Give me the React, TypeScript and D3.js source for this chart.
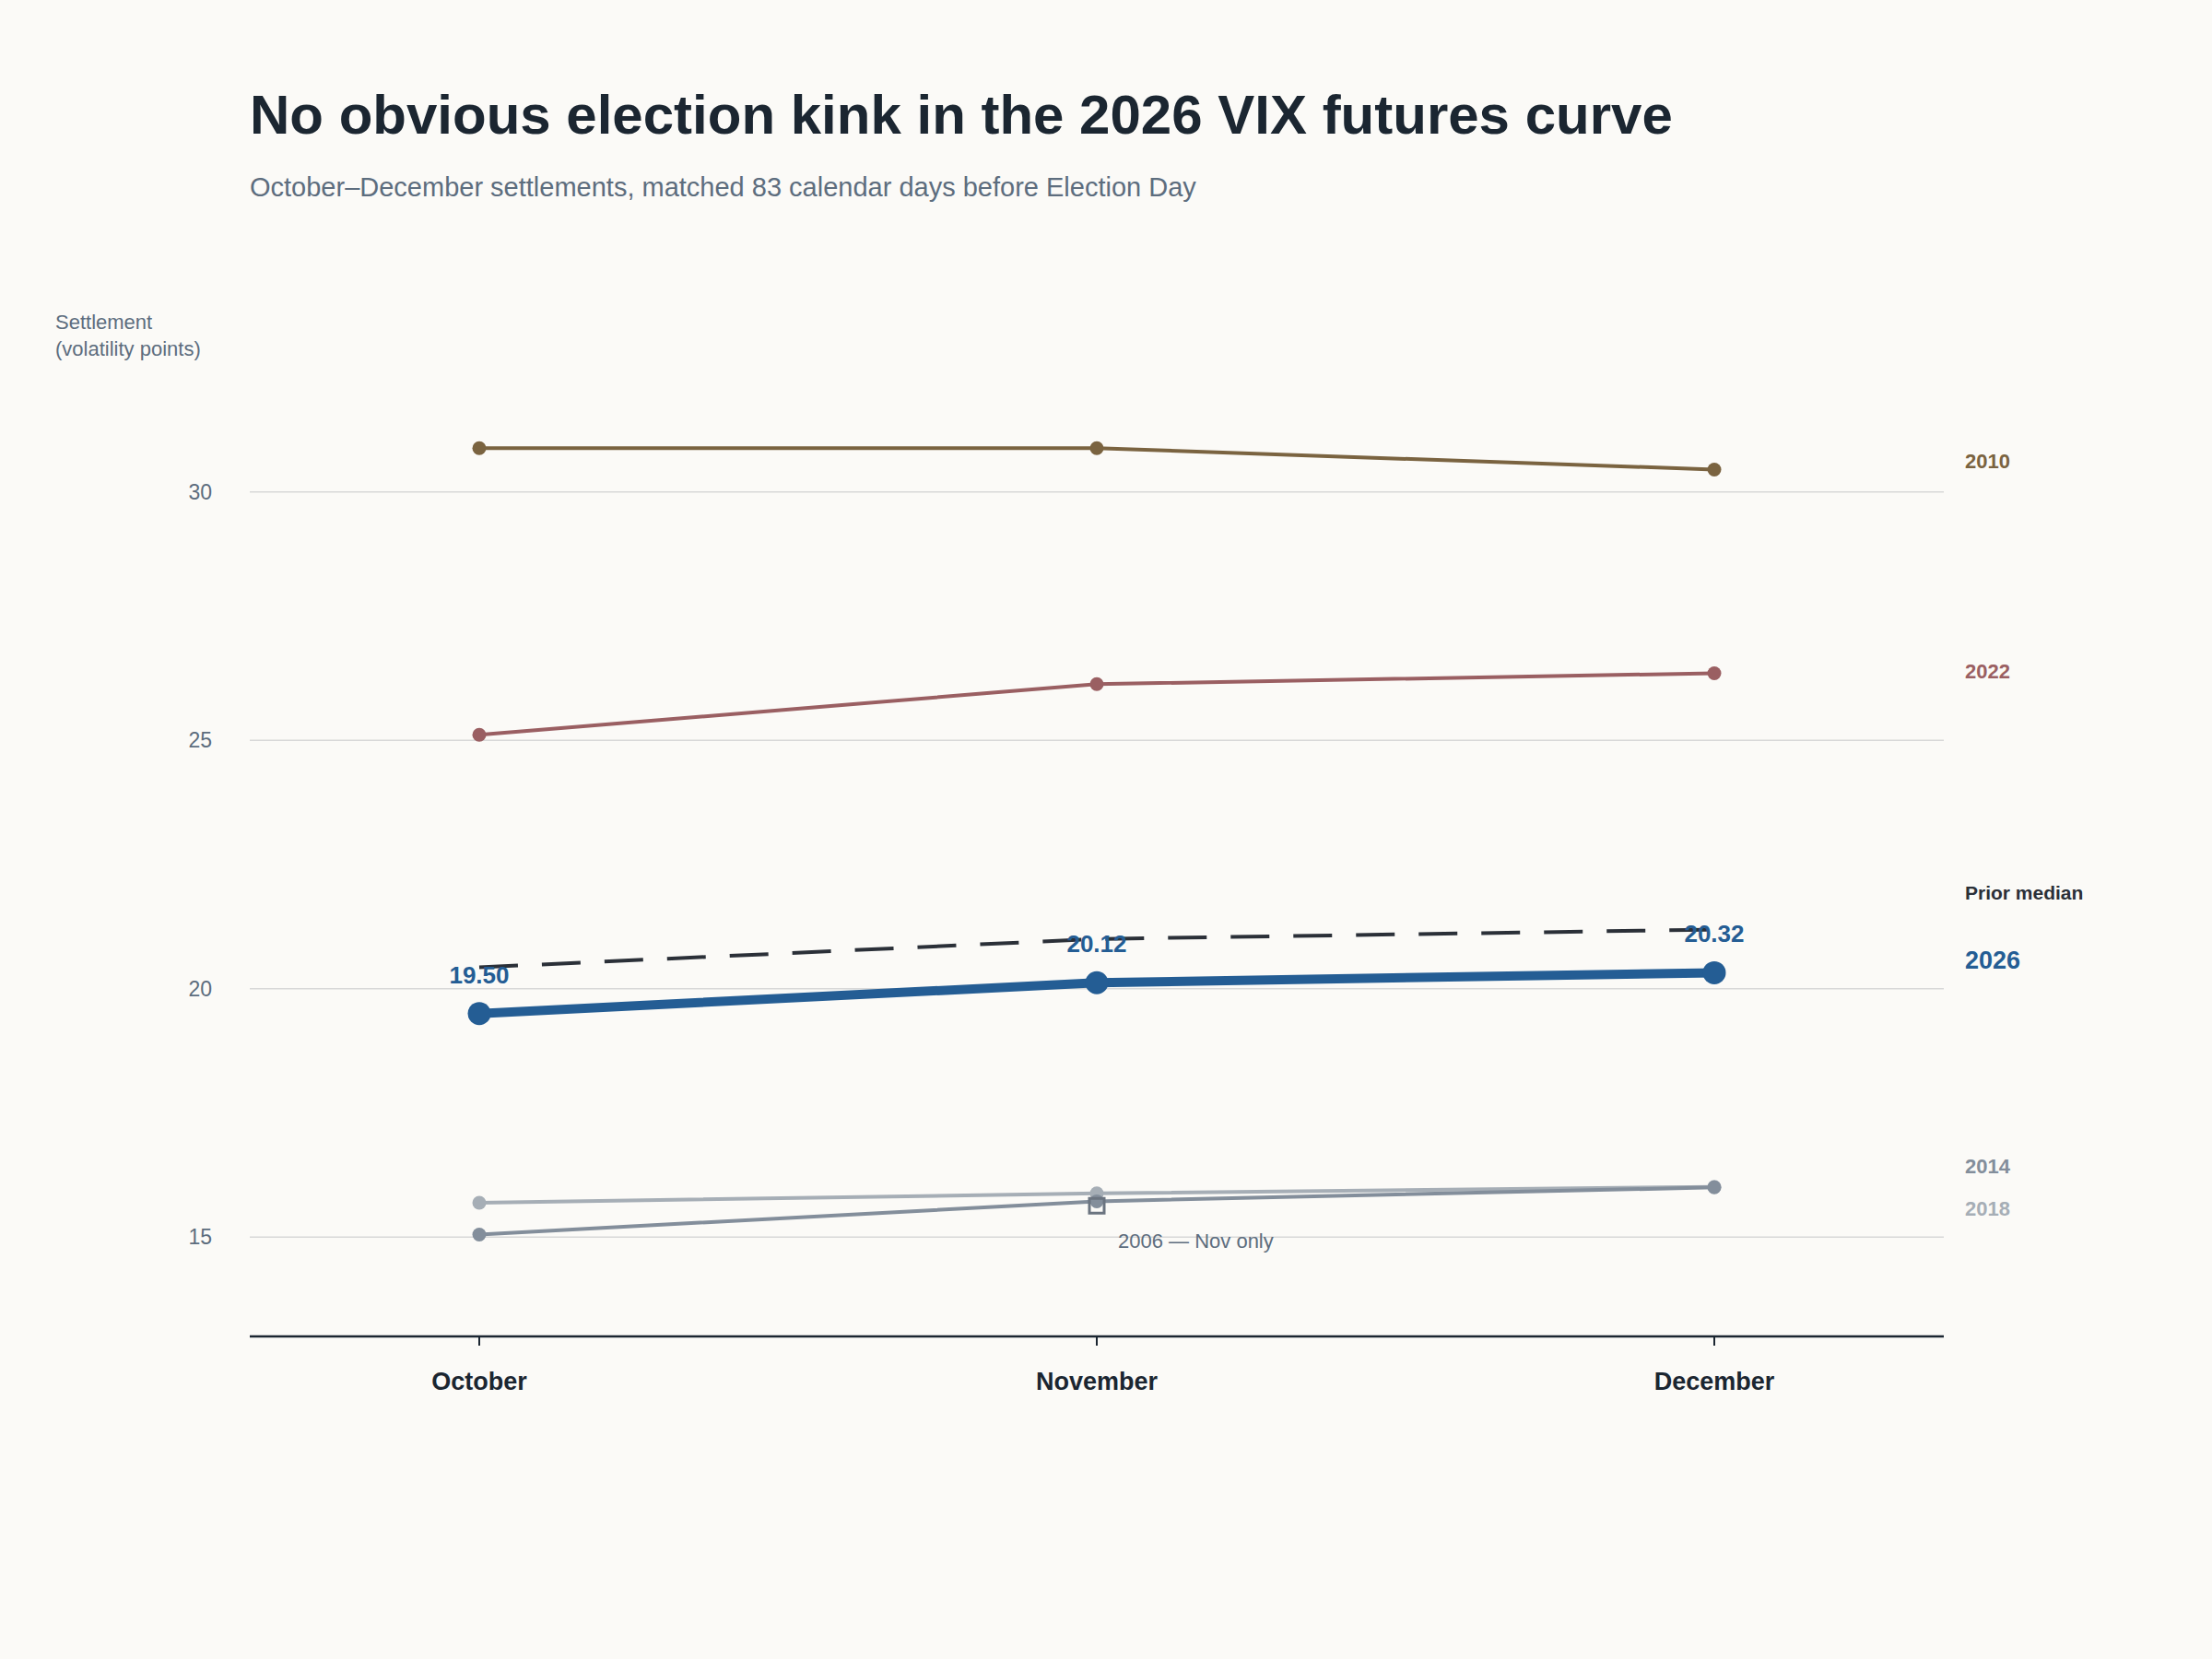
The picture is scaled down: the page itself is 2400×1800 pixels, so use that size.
import * as d3 from 'd3'

const months = ['October', 'November', 'December']
const yTicks = [15, 20, 25, 30]

const v2010 = [30.88, 30.88, 30.45]
const v2022 = [25.11, 26.13, 26.35]
const v2026 = [19.5, 20.12, 20.32]
const vMedian = [20.43, 21.0, 21.19]
const v2014 = [15.05, 15.72, 16.0]
const v2018 = [15.69, 15.88, 16.01]
const v2006Nov = 15.63

const W = 2400
const H = 1800
const margin = { left: 271, right: 291 }

export default function App() {
  const x = d3.scalePoint<string>().domain(months).range([520, 1860])
  const y = d3.scaleLinear().domain([13, 33]).range([1450, 1450 - 20 * 53.9])
  const line = d3.line<number>().x((_, i) => x(months[i])!).y(d => y(d))
  const xl = margin.left
  const xr = W - margin.right

  const series = [
    { v: v2018, c: '#a6aeb6', w: 4, r: 7.5 },
    { v: v2014, c: '#838e9b', w: 4, r: 7.5 },
    { v: v2022, c: '#9a5f62', w: 4, r: 7.5 },
    { v: v2010, c: '#7a6340', w: 4, r: 7.5 },
  ]
  const labels = [
    { t: '2010', v: 30.62, c: '#7a6340', s: 22 },
    { t: '2022', v: 26.4, c: '#9a5f62', s: 22 },
    { t: 'Prior median', v: 21.95, c: '#2b3038', s: 21 },
    { t: '2026', v: 20.55, c: '#245d94', s: 27 },
    { t: '2014', v: 16.43, c: '#838e9b', s: 22 },
    { t: '2018', v: 15.57, c: '#a6aeb6', s: 22 },
  ]
  const font = 'Liberation Sans, Arial, sans-serif'

  return (
    <svg width={W} height={H} style={{ position: 'absolute', left: 0, top: 0 }} fontFamily={font}>
      <rect width={W} height={H} fill="#fbfaf7" />
      <text x={271} y={145} fontSize={60} fontWeight="bold" fill="#1b2631">No obvious election kink in the 2026 VIX futures curve</text>
      <text x={271} y={213} fontSize={29} fill="#5d6d7e">October–December settlements, matched 83 calendar days before Election Day</text>
      <text x={60} y={357} fontSize={22} fill="#5d6d7e">Settlement</text>
      <text x={60} y={386} fontSize={22} fill="#5d6d7e">(volatility points)</text>

      {yTicks.map(t => (
        <g key={t}>
          <line x1={xl} x2={xr} y1={y(t)} y2={y(t)} stroke="#d8d8d8" strokeWidth={1.5} />
          <text x={230} y={y(t) + 8} fontSize={23} fill="#5d6d7e" textAnchor="end">{t}</text>
        </g>
      ))}
      <line x1={xl} x2={xr} y1={y(13)} y2={y(13)} stroke="#1b2631" strokeWidth={2.5} />
      {months.map(m => (
        <g key={m}>
          <line x1={x(m)} x2={x(m)} y1={y(13)} y2={y(13) + 10} stroke="#1b2631" strokeWidth={2} />
          <text x={x(m)} y={1508} fontSize={27} fontWeight="bold" fill="#1b2631" textAnchor="middle">{m}</text>
        </g>
      ))}

      {series.map((s, i) => (
        <g key={i}>
          <path d={line(s.v)!} fill="none" stroke={s.c} strokeWidth={s.w} />
          {s.v.map((v, j) => <circle key={j} cx={x(months[j])} cy={y(v)} r={s.r} fill={s.c} />)}
        </g>
      ))}
      <rect x={x('November')! - 8} y={y(v2006Nov) - 8} width={16} height={16} fill="none" stroke="#6b7480" strokeWidth={3} />
      <text x={x('November')! + 23} y={y(v2006Nov) + 46} fontSize={22} fill="#5d6d7e">2006 — Nov only</text>

      <path d={line(vMedian)!} fill="none" stroke="#2b3038" strokeWidth={4} strokeDasharray="42 26" />
      <path d={line(v2026)!} fill="none" stroke="#245d94" strokeWidth={10} />
      {v2026.map((v, j) => (
        <g key={j}>
          <circle cx={x(months[j])} cy={y(v)} r={12.5} fill="#245d94" />
          <text x={x(months[j])} y={y(v) - 33} fontSize={26} fontWeight="bold" fill="#245d94" textAnchor="middle">{v.toFixed(2)}</text>
        </g>
      ))}

      {labels.map(l => (
        <text key={l.t} x={2132} y={y(l.v) + 8} fontSize={l.s} fontWeight="bold" fill={l.c}>{l.t}</text>
      ))}
    </svg>
  )
}
